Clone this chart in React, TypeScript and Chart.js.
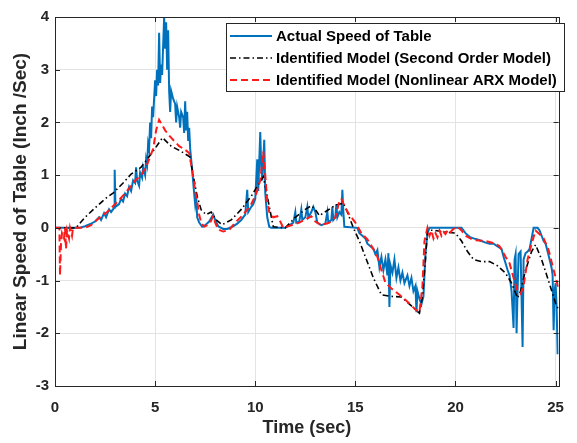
import React, { useEffect, useRef } from "react";
import { Chart, registerables } from "chart.js";

Chart.register(...registerables);

// ---- Data ----
const xTickValues = [0, 5, 10, 15, 20, 25];
const yTickValues = [-3, -2, -1, 0, 1, 2, 3, 4];

const seriesLabels = [
  "Actual Speed of Table",
  "Identified Model (Second Order Model)",
  "Identified Model (Nonlinear ARX Model)",
];

const actualT = [
  0, 1.2, 1.5, 1.8, 2.0, 2.2, 2.3, 2.45, 2.55, 2.7, 2.8, 2.95, 2.98, 3.02, 3.2, 3.3, 3.4, 3.5, 3.6, 3.7,
  3.8, 3.9, 4.0, 4.05, 4.1, 4.2, 4.25, 4.35, 4.4, 4.5, 4.55, 4.6, 4.65, 4.7, 4.75, 4.8, 4.85, 4.9, 5.0, 5.05,
  5.1, 5.15, 5.2, 5.25, 5.3, 5.35, 5.45, 5.5, 5.55, 5.6, 5.65, 5.7, 5.75, 5.8, 5.9, 6.0, 6.05, 6.1, 6.2, 6.25,
  6.3, 6.4, 6.45, 6.5, 6.55, 6.6, 6.65, 6.7, 6.75, 6.85, 6.95, 7.0, 7.05, 7.1, 7.2, 7.35, 7.5, 7.7, 7.9, 8.0,
  8.15, 8.4, 8.6, 8.9, 9.1, 9.3, 9.5, 9.6, 9.65, 9.8, 9.9, 10.0, 10.1, 10.15, 10.25, 10.3, 10.35, 10.45, 10.5, 10.6,
  10.7, 10.8, 11.5, 11.7, 11.9, 12.0, 12.05, 12.2, 12.3, 12.35, 12.5, 12.6, 12.65, 12.8, 12.9, 13.0, 13.1, 13.3, 13.5, 13.6,
  13.65, 13.8, 13.85, 13.9, 14.0, 14.05, 14.1, 14.2, 14.3, 14.35, 14.4, 14.45, 15.1, 15.2, 15.35, 15.5, 15.6, 15.75, 15.9, 16.0,
  16.1, 16.2, 16.3, 16.4, 16.5, 16.6, 16.65, 16.7, 16.75, 16.85, 16.95, 17.05, 17.15, 17.25, 17.35, 17.45, 17.6, 17.7, 17.8, 17.9,
  18.0, 18.05, 18.1, 18.2, 18.3, 18.4, 18.5, 18.6, 18.7, 20.3, 20.5, 20.7, 20.9, 21.1, 21.3, 21.5, 21.7, 21.9, 22.1, 22.3,
  22.4, 22.5, 22.6, 22.7, 22.8, 22.9, 22.95, 23.0, 23.05, 23.1, 23.15, 23.25, 23.35, 23.4, 23.5, 23.6, 23.7, 23.8, 23.9, 24.1,
  24.2, 24.3, 24.4, 24.5, 24.6, 24.7, 24.8, 24.85, 24.9, 24.95, 25.0, 25.05, 25.1, 25.15,
];
const actualV = [
  0, 0, 0.03, 0.08, 0.12, 0.2, 0.15, 0.28, 0.2, 0.35, 0.3, 0.38, 1.1, 0.4, 0.45, 0.55, 0.5, 0.65, 0.6, 0.78,
  0.7, 0.9, 0.85, 1.15, 0.9, 0.8, 1.05, 0.95, 1.15, 1.0, 1.3, 1.2, 1.6, 1.5, 2.0, 1.7, 2.3, 2.1, 2.8, 2.5,
  3.0, 2.7, 3.7, 2.75, 3.1, 2.9, 4.0, 3.4, 3.9, 3.0, 3.75, 2.6, 2.2, 2.6, 2.45, 2.35, 2.0, 2.3, 2.1, 1.9,
  2.2, 2.1, 1.8, 2.4, 1.85, 2.2, 1.65, 1.9, 1.5, 1.1, 0.65, 0.45, 0.6, 0.2, 0.1, 0.02, 0.05, 0.12, 0.25, 0.15,
  0.03, -0.02, -0.02, 0.03, 0.08, 0.15, 0.25, 0.72, 0.3, 0.4, 0.45, 0.55, 1.3, 0.7, 1.82, 1.16, 0.9, 1.67, 0.66, 0.2,
  0.02, 0, 0, 0.05, 0.1, 0.3, 0.1, 0.12, 0.35, 0.15, 0.2, 0.4, 0.2, 0.3, 0.4, 0.3, 0.1, 0.05, 0.08, 0.3,
  0.1, 0.15, 0.4, 0.15, 0.2, 0.45, 0.2, 0.3, 0.25, 0.72, 0.3, 0.02, 0.0, -0.1, -0.15, -0.2, -0.3, -0.35, -0.4, -0.5,
  -0.42, -0.75, -0.55, -0.8, -0.6, -0.9, -0.48, -1.5, -0.7, -0.85, -0.6, -0.95, -0.75, -1.0, -0.85, -1.05, -0.9, -1.1, -0.95, -1.2,
  -1.1, -1.6, -1.2, -1.35, -1.45, -1.3, -0.5, -0.1, 0.0, 0.0, -0.1, -0.17, -0.2, -0.22, -0.25, -0.28, -0.3, -0.3, -0.35, -0.4,
  -0.55, -0.67, -0.8, -0.9, -1.2, -1.9, -0.6, -0.5, -2.0, -1.2, -0.5, -0.45, -2.26, -0.6, -0.48, -0.45, -0.4, -0.2, 0.0, 0.0,
  -0.05, -0.15, -0.25, -0.3, -0.45, -0.6, -0.76, -0.9, -1.94, -1.2, -1.05, -1.5, -2.38, -2.38,
];

const secondOrderT = [
  0, 1.05, 1.5, 2.0, 2.5, 2.9, 3.4, 3.8, 4.3, 4.8, 5.37, 5.8, 6.3, 6.73, 6.9, 7.1, 7.3, 7.55, 7.8, 8.05,
  8.35, 8.8, 9.3, 9.8, 10.2, 10.4, 10.6, 10.9, 11.5, 12.0, 12.5, 12.8, 13.0, 13.2, 13.6, 14.0, 14.4, 14.6, 14.9, 15.2,
  15.5, 15.9, 16.3, 16.8, 17.3, 17.8, 18.2, 18.35, 18.5, 18.6, 19.0, 19.5, 20.0, 20.3, 20.6, 20.9, 21.3, 21.7, 22.1, 22.5,
  22.8, 23.1, 23.25, 23.5, 23.8, 24.0, 24.3, 24.6, 24.85, 25.0, 25.15,
];
const secondOrderV = [
  0, 0, 0.2, 0.38, 0.55, 0.66, 0.85, 1.02, 1.15, 1.4, 1.71, 1.55, 1.45, 1.35, 1.0, 0.6, 0.34, 0.25, 0.3, 0.15,
  0.06, 0.15, 0.35, 0.6, 0.85, 0.97, 0.6, 0.02, 0.0, 0.2, 0.35, 0.42, 0.35, 0.23, 0.33, 0.43, 0.47, 0.3, 0.0, -0.25,
  -0.55, -0.95, -1.27, -1.3, -1.31, -1.48, -1.62, -1.3, -0.6, -0.04, -0.05, -0.08, -0.1, -0.25, -0.45, -0.6, -0.64, -0.64, -0.72, -0.86,
  -1.05, -1.33, -1.2, -0.8, -0.45, -0.32, -0.6, -0.95, -1.25, -1.43, -1.55,
];

const narxT = [
  0, 0.22, 0.25, 0.3, 0.35, 0.45, 0.5, 0.55, 0.6, 0.7, 0.75, 0.85, 0.9, 1.5, 1.8, 2.0, 2.3, 2.6, 3.0, 3.3,
  3.6, 4.0, 4.3, 4.6, 4.9, 5.05, 5.2, 5.35, 5.5, 5.7, 5.95, 6.2, 6.5, 6.7, 6.85, 7.0, 7.1, 7.2, 7.3, 7.45,
  7.6, 7.75, 7.9, 8.0, 8.15, 8.4, 8.7, 9.0, 9.4, 9.8, 10.05, 10.25, 10.4, 10.5, 10.6, 10.7, 10.9, 11.1, 11.25, 11.4,
  11.8, 12.2, 12.6, 12.8, 13.0, 13.3, 13.7, 14.0, 14.2, 14.3, 14.5, 14.7, 15.0, 15.3, 15.6, 15.9, 16.1, 16.3, 16.5, 16.8,
  17.2, 17.6, 18.0, 18.2, 18.35, 18.45, 18.6, 18.7, 18.8, 18.9, 19.0, 19.1, 19.2, 19.3, 19.4, 19.5, 19.6, 19.7, 19.8, 19.9,
  20.1, 20.3, 20.5, 20.9, 21.5, 22.0, 22.2, 22.5, 22.7, 22.9, 23.1, 23.25, 23.4, 23.6, 23.8, 24.0, 24.2, 24.4, 24.65, 24.9,
  25.15,
];
const narxV = [
  0, 0, -0.9, -0.3, -0.1, -0.2, 0, -0.4, -0.05, -0.2, 0, -0.15, 0, 0, 0.05, 0.12, 0.22, 0.3, 0.45, 0.57,
  0.7, 0.9, 1.0, 1.2, 1.5, 1.85, 2.05, 1.95, 1.85, 1.75, 1.65, 1.55, 1.48, 1.42, 1.1, 0.7, 0.5, 0.25, 0.1, 0.02,
  0.05, 0.1, 0.22, 0.1, -0.03, -0.07, -0.04, 0.1, 0.25, 0.45, 0.65, 0.9, 1.45, 1.0, 0.5, 0.3, 0.2, 0.22, 0.12, 0.0,
  0.05, 0.1, 0.18, 0.22, 0.12, 0.05, 0.1, 0.2, 0.5, 0.55, 0.38, 0.25, 0.1, -0.1, -0.22, -0.4, -0.55, -0.8, -1.04, -1.15,
  -1.27, -1.4, -1.55, -1.6, -1.1, -0.25, 0.0, -0.15, -0.05, -0.2, -0.1, -0.18, -0.05, -0.15, -0.08, -0.12, -0.05, -0.1, -0.06, -0.02,
  0.02, -0.05, -0.15, -0.23, -0.25, -0.3, -0.35, -0.55, -0.67, -0.95, -1.2, -1.25, -1.1, -0.6, -0.3, -0.05, -0.12, -0.2, -0.42, -0.8,
  -1.15,
];

const toPoints = (t: number[], v: number[]) => t.map((x, i) => ({ x, y: v[i] }));

const FONT = "'Liberation Sans', Arial, Helvetica, sans-serif";
const AXIS_COLOR = "#262626";

const boxPlugin = {
  id: "matlabBox",
  afterDatasetsDraw(chart: any) {
    const { ctx, chartArea } = chart;
    const { left, right, top, bottom } = chartArea;
    const xs = chart.scales.x;
    const ys = chart.scales.y;
    ctx.save();
    ctx.strokeStyle = AXIS_COLOR;
    ctx.lineWidth = 1;
    ctx.strokeRect(Math.round(left) + 0.5, Math.round(top) + 0.5, Math.round(right - left), Math.round(bottom - top));
    const tl = 5;
    ctx.beginPath();
    xTickValues.forEach((v) => {
      const px = Math.round(xs.getPixelForValue(v)) + 0.5;
      ctx.moveTo(px, bottom);
      ctx.lineTo(px, bottom - tl);
      ctx.moveTo(px, top);
      ctx.lineTo(px, top + tl);
    });
    yTickValues.forEach((v) => {
      const py = Math.round(ys.getPixelForValue(v)) + 0.5;
      ctx.moveTo(left, py);
      ctx.lineTo(left + tl, py);
      ctx.moveTo(right, py);
      ctx.lineTo(right - tl, py);
    });
    ctx.stroke();

    // Legend inside the axes (top right)
    const lx = 226.5, ly = 23.5, lw = 338, lh = 68;
    ctx.fillStyle = "#ffffff";
    ctx.fillRect(lx, ly, lw, lh);
    ctx.strokeStyle = AXIS_COLOR;
    ctx.lineWidth = 1;
    ctx.strokeRect(lx, ly, lw, lh);
    const rowsY = [36, 58, 80];
    chart.data.datasets.forEach((ds: any, i: number) => {
      const y = rowsY[i];
      ctx.save();
      ctx.strokeStyle = ds.borderColor;
      ctx.lineWidth = ds.borderWidth;
      ctx.setLineDash(ds.borderDash || []);
      ctx.beginPath();
      ctx.moveTo(230, y);
      ctx.lineTo(272, y);
      ctx.stroke();
      ctx.restore();
      ctx.fillStyle = "#000000";
      ctx.font = `bold 15px ${FONT}`;
      ctx.textBaseline = "middle";
      ctx.textAlign = "left";
      ctx.fillText(ds.label, 276, y + 1);
    });
    ctx.restore();
  },
};

export default function App() {
  const ref = useRef<HTMLCanvasElement | null>(null);
  useEffect(() => {
    if (!ref.current) return;
    const chart = new Chart(ref.current, {
      type: "line",
      data: {
        datasets: [
          {
            label: seriesLabels[0],
            data: toPoints(actualT, actualV),
            borderColor: "#0072BD",
            borderWidth: 2,
            pointRadius: 0,
            tension: 0,
            order: 3,
          },
          {
            label: seriesLabels[1],
            data: toPoints(secondOrderT, secondOrderV),
            borderColor: "#000000",
            borderWidth: 1.6,
            borderDash: [6, 3, 1.5, 3],
            pointRadius: 0,
            tension: 0,
            order: 2,
          },
          {
            label: seriesLabels[2],
            data: toPoints(narxT, narxV),
            borderColor: "#FF1A1A",
            borderWidth: 2,
            borderDash: [7, 4],
            pointRadius: 0,
            tension: 0,
            order: 1,
          },
        ],
      },
      options: {
        animation: false,
        responsive: false,
        devicePixelRatio: 1,
        layout: { padding: { top: 17, right: 6, left: 0, bottom: 0 } },
        plugins: { legend: { display: false }, tooltip: { enabled: false } },
        scales: {
          x: {
            type: "linear",
            min: 0,
            max: 25.15,
            afterBuildTicks: (s: any) => {
              s.ticks = xTickValues.map((v) => ({ value: v }));
            },
            afterFit: (s: any) => {
              s.height = 57;
            },
            grid: { color: "#e3e3e3", drawTicks: false, lineWidth: 1 },
            border: { display: false },
            ticks: {
              padding: 13,
              color: AXIS_COLOR,
              font: { family: FONT, size: 15, weight: "bold" },
              maxRotation: 0,
            },
            title: {
              display: true,
              text: "Time (sec)",
              color: AXIS_COLOR,
              font: { family: FONT, size: 18, weight: "bold" },
              padding: { top: 0, bottom: 4 },
            },
          },
          y: {
            type: "linear",
            min: -3,
            max: 4,
            afterBuildTicks: (s: any) => {
              s.ticks = yTickValues.map((v) => ({ value: v }));
            },
            afterFit: (s: any) => {
              s.width = 55;
            },
            grid: { color: "#e3e3e3", drawTicks: false, lineWidth: 1 },
            border: { display: false },
            ticks: {
              padding: 6,
              color: AXIS_COLOR,
              font: { family: FONT, size: 15, weight: "bold" },
            },
            title: {
              display: true,
              text: "Linear Speed of Table (Inch /Sec)",
              color: AXIS_COLOR,
              font: { family: FONT, size: 19, weight: "bold" },
              padding: { top: 9, bottom: 0 },
            },
          },
        },
      },
      plugins: [boxPlugin],
    });
    return () => chart.destroy();
  }, []);
  return (
    <div style={{ position: "fixed", left: 0, top: 0, width: 577, height: 443, background: "#fff" }}>
      <canvas ref={ref} width={577} height={443} style={{ width: 577, height: 443 }} />
    </div>
  );
}
